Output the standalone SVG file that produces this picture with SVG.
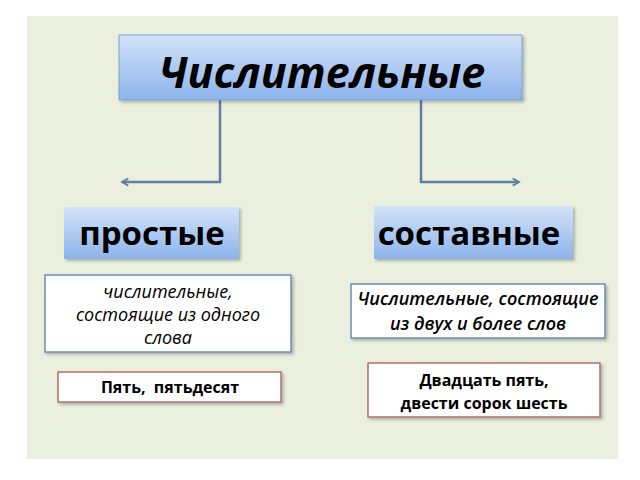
<svg xmlns="http://www.w3.org/2000/svg" width="640" height="480" viewBox="0 0 640 480">
<defs>
<linearGradient id="blue" x1="0" y1="0" x2="0" y2="1">
<stop offset="0" stop-color="#d3e3f8"/>
<stop offset="1" stop-color="#8db3ec"/>
</linearGradient>
<filter id="sh" x="-10%" y="-10%" width="130%" height="140%">
<feDropShadow dx="2" dy="2" stdDeviation="1.5" flood-color="#000" flood-opacity="0.25"/>
</filter>
<marker id="chev" viewBox="0 0 10 10" refX="8" refY="5" markerWidth="9" markerHeight="9" markerUnits="userSpaceOnUse" orient="auto-start-reverse">
<path d="M1,1 L8,5 L1,9" fill="none" stroke="#5f7fa3" stroke-width="2"/>
</marker>
<style>
.hdr{fill:url(#blue);filter:url(#sh)}
.desc{fill:#fff;stroke:#6d8db4;stroke-width:1.5;filter:url(#sh)}
.ex{fill:#fff;stroke:#b2706c;stroke-width:1.5;filter:url(#sh)}
.t{font-family:"Open Sans","Noto Sans","DejaVu Sans",sans-serif;fill:#000;text-anchor:middle}
.big{font-weight:700;font-size:33px}
.it{font-style:italic;font-size:18px}
.b{font-weight:700;font-size:16px}
.conn{fill:none;stroke:#5f7fa3;stroke-width:2.5}
</style>
</defs>
<rect x="27" y="16" width="591" height="443" fill="#eaefde"/>
<g id="connectors">
<path class="conn" d="M220,100 V182 H122" marker-end="url(#chev)"/>
<path class="conn" d="M421,100 V182 H519" marker-end="url(#chev)"/>
</g>
<g id="title">
<rect x="119" y="35" width="403" height="65" fill="url(#blue)" stroke="#7f9fcf" stroke-width="1" filter="url(#sh)"/>
<text class="t" x="322" y="88" font-weight="700" font-style="italic" font-size="43">Числительные</text>
</g>
<g id="simple">
<rect class="hdr" x="64" y="207" width="175" height="52"/>
<text class="t big" x="152" y="245">простые</text>
</g>
<g id="compound">
<rect class="hdr" x="374" y="206" width="199" height="53"/>
<text class="t big" x="469" y="245">составные</text>
</g>
<g id="simple-desc">
<rect class="desc" x="45" y="275" width="246" height="77"/>
<text class="t it" x="168" y="298">числительные,</text>
<text class="t it" x="168" y="321">состоящие из одного</text>
<text class="t it" x="168" y="344">слова</text>
</g>
<g id="compound-desc">
<rect class="desc" x="351" y="284" width="254" height="54"/>
<text class="t it" x="478" y="305" font-weight="600">Числительные, состоящие</text>
<text class="t it" x="478" y="330" font-weight="600">из двух и более слов</text>
</g>
<g id="simple-ex">
<rect class="ex" x="58" y="372" width="223" height="30"/>
<text class="t b" x="170" y="393" xml:space="preserve">Пять,  пятьдесят</text>
</g>
<g id="compound-ex">
<rect class="ex" x="368" y="363" width="232" height="54"/>
<text class="t b" x="484" y="386">Двадцать пять,</text>
<text class="t b" x="484" y="409">двести сорок шесть</text>
</g>
</svg>
